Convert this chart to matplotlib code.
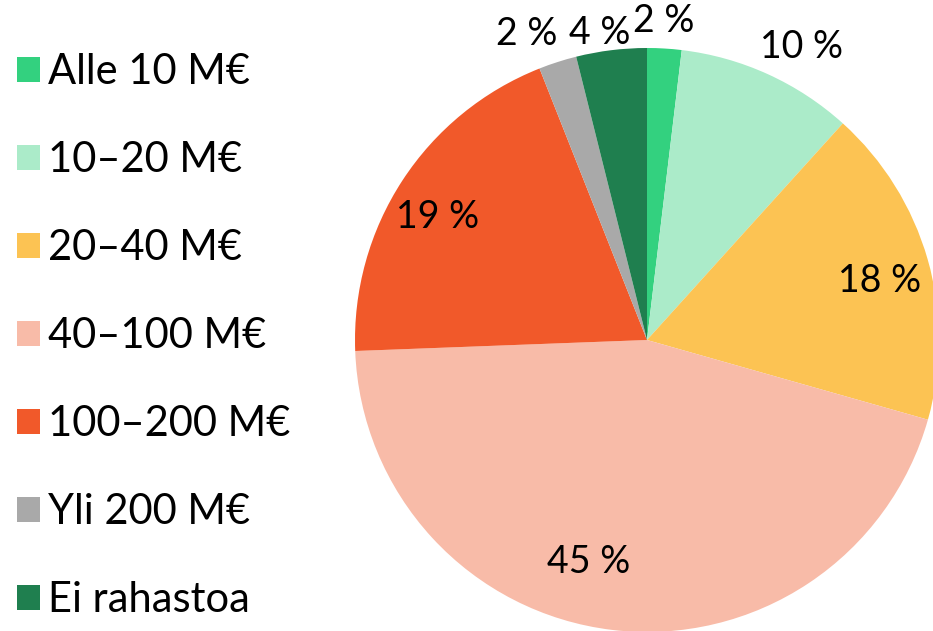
import numpy as np
import matplotlib.pyplot as plt
from matplotlib.patches import Patch

categories = ['Alle 10 M€', '10–20 M€', '20–40 M€', '40–100 M€', '100–200 M€', 'Yli 200 M€', 'Ei rahastoa']
shares = [1.9, 9.8, 17.7, 45.0, 19.6, 2.1, 3.9]
labels = ['2 %', '10 %', '18 %', '45 %', '19 %', '2 %', '4 %']
colors = ['#33d17f', '#abebc9', '#fcc353', '#f8bba8', '#f1592a', '#a9a9a9', '#1f7f4f']
# label placement: radius (fraction of pie radius) and angle nudge in degrees
label_r = [1.094, 1.135, 0.822, 0.787, 0.831, 1.124, 1.064]
label_nudge = [0.4, -3.3, -1.8, -7.9, 2.7, 3.6, 1.8]

plt.rcParams['font.family'] = ['Lato', 'DejaVu Sans']

fig = plt.figure(figsize=(9.33, 6.31), dpi=100)
ax = fig.add_axes([0, 0, 1, 1])

R = 292
cx, cy = 647, 631 - 340
wedges, _ = ax.pie(shares, colors=colors, startangle=90, counterclock=False,
                   radius=R, center=(cx, cy), frame=True,
                   wedgeprops=dict(linewidth=0))

for w, lab, r, d in zip(wedges, labels, label_r, label_nudge):
    ang = np.deg2rad((w.theta1 + w.theta2) / 2 + d)
    ax.text(cx + r * R * np.cos(ang), cy + r * R * np.sin(ang), lab,
            ha='center', va='center', fontsize=27, color='black')

ax.set_xlim(0, 933)
ax.set_ylim(0, 631)
ax.set_aspect('equal')
ax.axis('off')

handles = [Patch(facecolor=c, edgecolor='none') for c in colors]
leg = ax.legend(handles, categories, loc='upper left', bbox_to_anchor=(17 / 933, 1 - 53 / 631),
                frameon=False, fontsize=30, handlelength=0.55, handleheight=0.55,
                handletextpad=0.2, labelspacing=1.2, borderaxespad=0, borderpad=0)

fig.savefig('out.png', dpi=100)
